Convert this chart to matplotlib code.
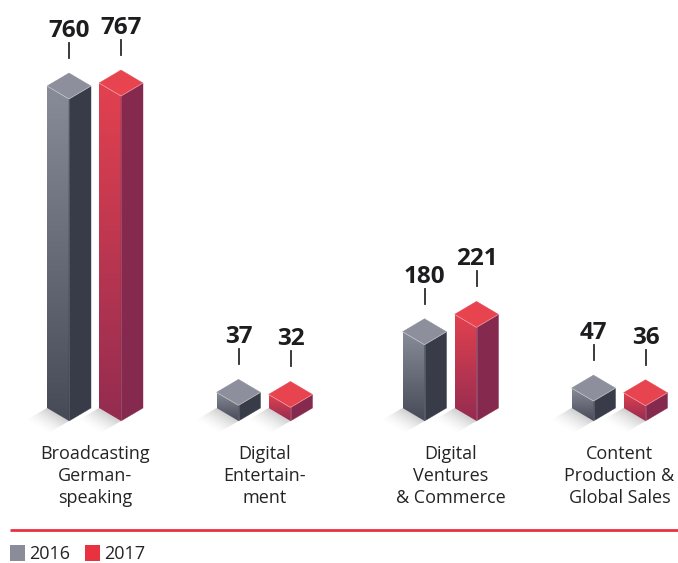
import numpy as np
import matplotlib
matplotlib.use("Agg")
import matplotlib.pyplot as plt
from matplotlib.patches import Polygon
from matplotlib.colors import to_rgb

# ---- data ----
categories = ["Broadcasting\nGerman-\nspeaking",
              "Digital\nEntertain-\nment",
              "Digital\nVentures\n& Commerce",
              "Content\nProduction &\nGlobal Sales"]
years = ["2016", "2017"]
values_2016 = [760, 37, 180, 47]
values_2017 = [767, 32, 221, 36]

# ---- layout (figure pixels) ----
W, H = 678, 563
Y0 = 421                 # pixel row of value 0
K = 322 / 760            # pixels per unit
group_x = [95, 264.5, 450.5, 619.5]
bar_off = 26             # front-edge offset of each bar from group centre
HW = 22                  # half width of a prism (px)
HD = 13                  # isometric rise of a prism (px)


def pv(px):
    """vertical pixel distance -> value units"""
    return px / K


def yval(py):
    """figure pixel row -> value coordinate"""
    return (Y0 - py) / K


styles = {
    "2016": dict(top="#8d909c", left_top="#888c98", left_bot="#474b58",
                 right="#383c48", legend="#8a8d99"),
    "2017": dict(top="#e8444f", left_top="#e2414f", left_bot="#942c51",
                 right="#852a4e", legend="#e8323f"),
}

fig = plt.figure(figsize=(W / 100, H / 100), dpi=100)
ax = fig.add_axes([0, 0, 1, 1])
ax.set_xlim(0, W)
ax.set_ylim(yval(H), yval(0))
ax.axis("off")

num_font = dict(family=["Open Sans", "DejaVu Sans"], fontweight="bold",
                fontsize=17.5, color="#1d1d1f")
lab_font = dict(family=["Open Sans", "DejaVu Sans"], fontsize=13,
                color="#242424")

d = pv(HD)


def vgrad(c_top, c_bot, n=64):
    t = np.linspace(0, 1, n)[:, None]
    a = np.array(to_rgb(c_top))
    b = np.array(to_rgb(c_bot))
    return (a * (1 - t) + b * t)[:, None, :].repeat(2, axis=1)


def shadow(c):
    # soft diamond shadow cast to the lower left of the prism foot
    nx, ny = 80, 60
    xs = np.linspace(-2 * HW, 0, nx)
    ys = np.linspace(HD, -HD, ny)
    X, Y = np.meshgrid(xs, ys)
    t = np.clip(-(X * HD + Y * HW) / (2 * HW * HD), 0, 1)
    img = np.zeros((ny, nx, 4))
    img[..., :3] = 0.55
    img[..., 3] = 0.42 * (1 - t) ** 1.6
    poly = Polygon([(c - HW, d), (c, 0), (c - HW, -d), (c - 2 * HW, 0)],
                   closed=True, facecolor="none", edgecolor="none")
    ax.add_patch(poly)
    im = ax.imshow(img, extent=[c - 2 * HW, c, -d, d], aspect="auto",
                   interpolation="bilinear", zorder=1)
    im.set_clip_path(poly)


def prism(c, v, st):
    shadow(c)
    left = Polygon([(c - HW, d), (c, 0), (c, v), (c - HW, v + d)], closed=True,
                   facecolor="none", edgecolor="none", zorder=2)
    ax.add_patch(left)
    im = ax.imshow(vgrad(st["left_top"], st["left_bot"]),
                   extent=[c - HW, c, 0, v + d], aspect="auto",
                   interpolation="bilinear", zorder=2)
    im.set_clip_path(left)
    ax.add_patch(Polygon([(c, 0), (c + HW, d), (c + HW, v + d), (c, v)],
                         closed=True, facecolor=st["right"],
                         edgecolor=st["right"], lw=0.3, zorder=3))
    ax.add_patch(Polygon([(c, v), (c - HW, v + d), (c, v + 2 * d), (c + HW, v + d)],
                         closed=True, facecolor=st["top"], edgecolor=st["top"],
                         lw=0.3, zorder=4))
    ax.plot([c - HW, c, c + HW], [v + d, v, v + d], color="white",
            lw=0.5, alpha=0.45, zorder=5)
    ax.plot([c, c], [0, v], color="white", lw=0.4, alpha=0.25, zorder=5)
    # value label with a short leader
    apex = v + 2 * d
    ax.plot([c, c], [apex + pv(15), apex + pv(30)], color="#2b2b2b",
            lw=1.3, zorder=5)
    ax.text(c, apex + pv(36), f"{v}", ha="center", va="baseline", **num_font)


for i, gx in enumerate(group_x):
    prism(gx - bar_off, values_2016[i], styles["2016"])
    prism(gx + bar_off, values_2017[i], styles["2017"])
    for j, line in enumerate(categories[i].split("\n")):
        ax.text(gx, yval(459 + 22 * j), line, ha="center", va="baseline",
                **lab_font)

# separator rule
ax.plot([10, W], [yval(530), yval(530)], color="#e8323f", lw=2,
        solid_capstyle="butt")

# legend
leg_x = [10, 85]
for lx, yr in zip(leg_x, years):
    ax.add_patch(Polygon([(lx, yval(545)), (lx + 15, yval(545)),
                          (lx + 15, yval(561)), (lx, yval(561))],
                         closed=True, facecolor=styles[yr]["legend"],
                         edgecolor="none"))
    ax.text(lx + 19, yval(559), yr, ha="left", va="baseline", **lab_font)

fig.savefig("out.png", dpi=100)
